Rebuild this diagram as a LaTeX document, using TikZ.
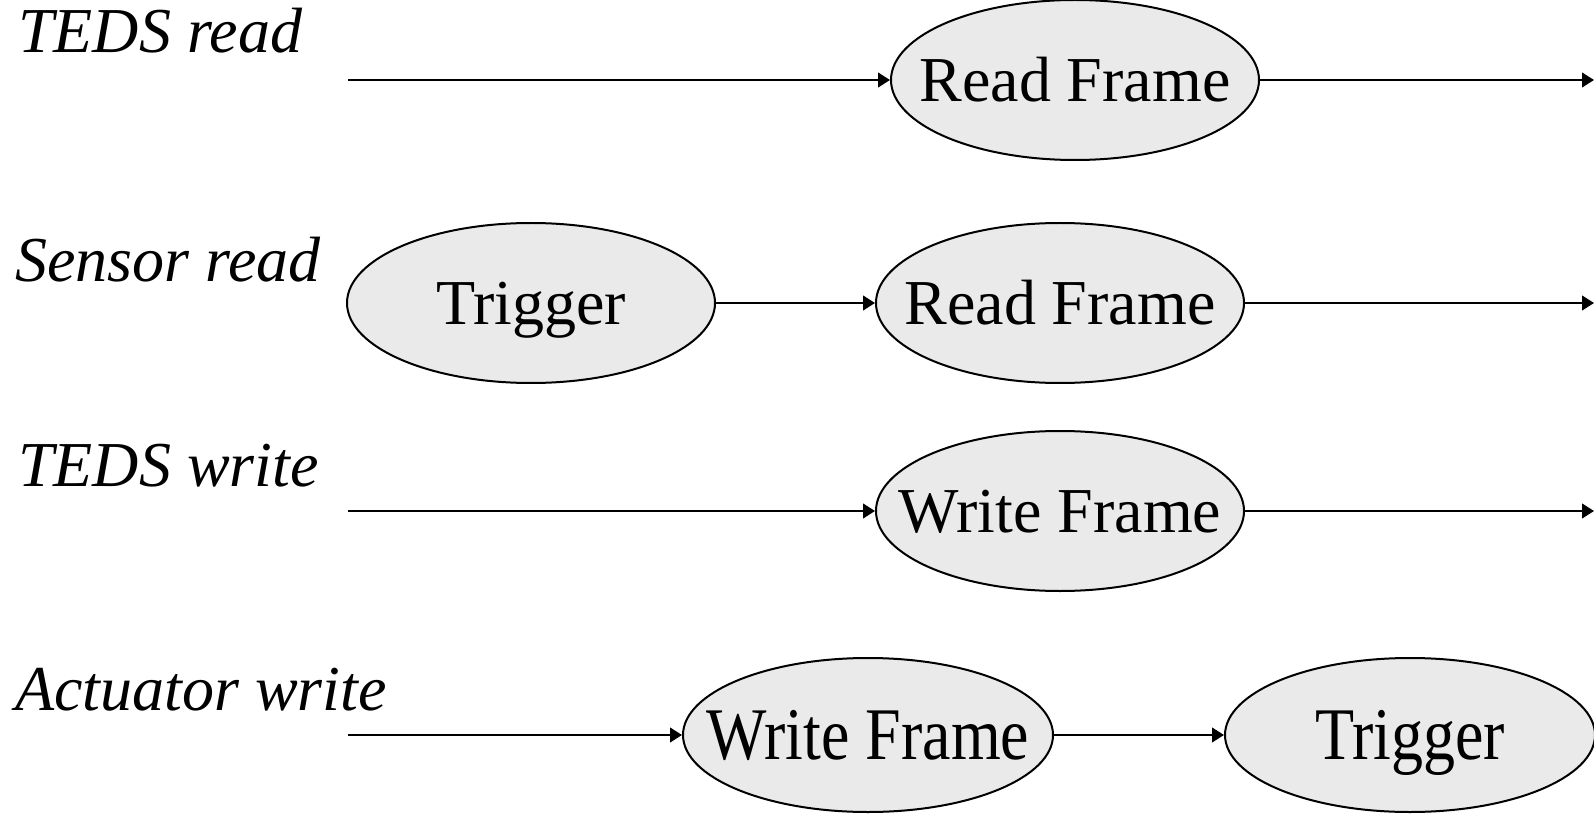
\documentclass[tikz,border=0pt]{standalone}
\usepackage{fontspec}
\setmainfont{Liberation Serif}
\usepackage{tikz}
\usepackage{graphicx}
\usetikzlibrary{shapes, arrows.meta}

\definecolor{ovalgray}{RGB}{234,234,234}
\tikzset{
    stagenode/.style={ellipse, draw=black, line width=1.5pt, fill=ovalgray, inner sep=0pt,
        minimum width=276pt, minimum height=120pt, text height=32pt, text depth=0pt,
        font=\fontsize{48}{56}\selectfont},
    lownode/.style={stagenode, minimum width=277.5pt, minimum height=115.5pt, text height=37pt},
    rowlabel/.style={anchor=base west, inner sep=0pt, font=\fontsize{48}{56}\selectfont\itshape},
    msg/.style={line width=1.6pt, -{Triangle[length=9pt, width=11pt]}}
}

\begin{document}
\begin{tikzpicture}[x=0.75pt, y=-0.75pt]
            \useasboundingbox (0, 0) rectangle (1594, 816);

            % row labels
            \node[rowlabel] (l1) at (18, 53) {TEDS read};
            \node[rowlabel] (l2) at (15, 282) {Sensor read};
            \node[rowlabel] (l3) at (18, 486) {TEDS write};
            \node[rowlabel] (l4) at (15, 710) {Actuator write};

            % frames
            \node[stagenode] (rf1) at (1075, 80) {\makebox[0pt]{Read Frame}};
            \node[stagenode] (tr2) at (531, 303) {\makebox[0pt]{Trigger}};
            \node[stagenode] (rf2) at (1060, 303) {\makebox[0pt]{Read Frame}};
            \node[stagenode] (wf3) at (1060, 511) {\makebox[0pt]{Write Frame}};
            \node[lownode] (wf4) at (868, 735) {\makebox[0pt]{\scalebox{1}[1.16]{Write Frame}}};
            \node[lownode] (tr4) at (1410, 735) {\makebox[0pt]{\scalebox{1}[1.16]{Trigger}}};

            % loose ends
            \coordinate (s1) at (348, 80);
            \coordinate (e1) at (1594, 80);
            \coordinate (e2) at (1594, 303);
            \coordinate (s3) at (348, 511);
            \coordinate (e3) at (1594, 511);
            \coordinate (s4) at (348, 735);

            \draw[msg] (s1) -- (rf1);
            \draw[msg] (rf1) -- (e1);
            \draw[msg] (tr2) -- (rf2);
            \draw[msg] (rf2) -- (e2);
            \draw[msg] (s3) -- (wf3);
            \draw[msg] (wf3) -- (e3);
            \draw[msg] (s4) -- (wf4);
            \draw[msg] (wf4) -- (tr4);
\end{tikzpicture}
\end{document}
